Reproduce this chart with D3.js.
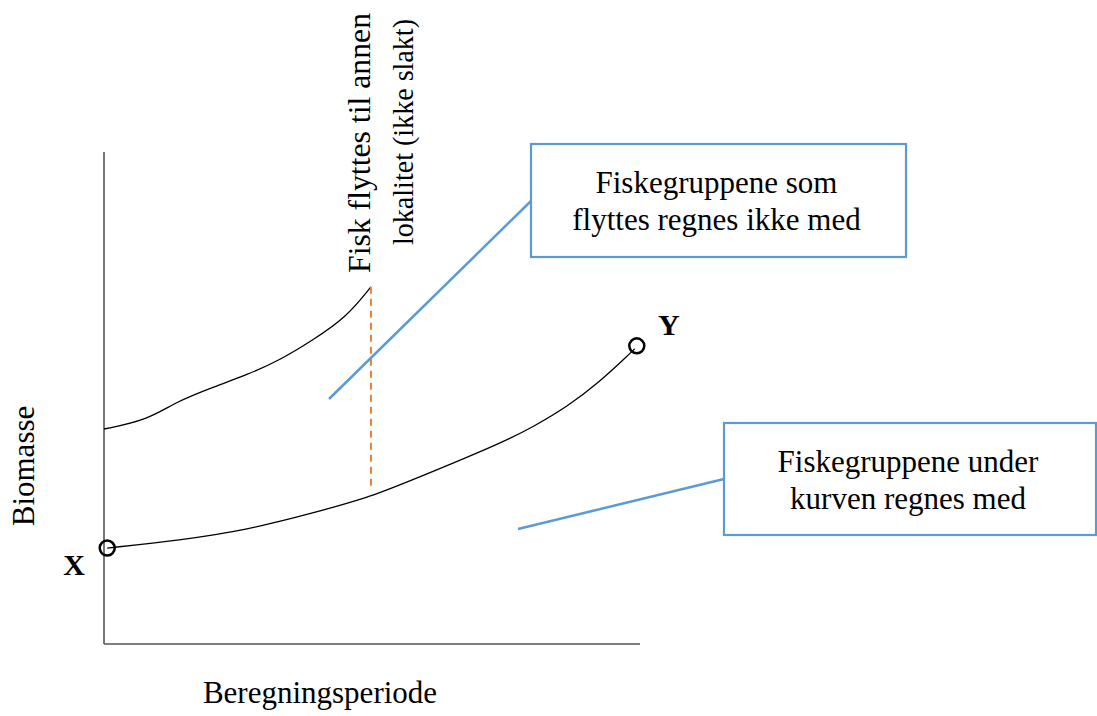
<!DOCTYPE html>
<html>
<head>
<meta charset="utf-8">
<script src="https://cdn.jsdelivr.net/npm/d3@7"></script>
<style>
  body { margin: 0; background: #fff; }
</style>
</head>
<body>
<div id="chart"></div>
<script>
// schematic values (period 0-10, biomass 0-10)
const upperPeriod = [0, 0.8, 1.34, 2.03, 2.67, 3.28, 3.9, 4.53, 4.98];
const upperBiomass = [4.37, 4.55, 4.92, 5.22, 5.47, 5.77, 6.18, 6.65, 7.26];
const lowerPeriod = [0.06, 1.42, 2.67, 3.9, 4.96, 5.52, 7.39, 8.0, 8.64, 9.25, 9.78, 9.9];
const lowerBiomass = [1.95, 2.11, 2.32, 2.66, 2.99, 3.23, 4.07, 4.41, 4.82, 5.33, 5.87, 6.0];
const movePeriod = 4.98;
const moveBiomass = [7.26, 3.17];
const pointLabels = ["X", "Y"];
const moveLabel = ["Fisk flyttes til annen", "lokalitet (ikke slakt)"];
const boxTop = ["Fiskegruppene som", "flyttes regnes ikke med"];
const boxBottom = ["Fiskegruppene under", "kurven regnes med"];

const FONT = "'Liberation Serif', 'Times New Roman', 'DejaVu Serif', serif";
const W = 1097, H = 716;
const svg = d3.select("#chart").append("svg")
    .attr("width", W)
    .attr("height", H)
    .attr("font-family", FONT);

const x = d3.scaleLinear().domain([0, 10]).range([104, 640]);
const y = d3.scaleLinear().domain([0, 10]).range([644, 152]);

// axes (plain lines, no ticks)
svg.append("line")
    .attr("x1", x(0)).attr("x2", x(0))
    .attr("y1", y(10)).attr("y2", y(0))
    .attr("stroke", "#555").attr("stroke-width", 1.6);
svg.append("line")
    .attr("x1", x(0)).attr("x2", x(10))
    .attr("y1", y(0)).attr("y2", y(0))
    .attr("stroke", "#555").attr("stroke-width", 1.6);

// axis titles
svg.append("text")
    .attr("x", 320).attr("y", 703)
    .attr("text-anchor", "middle")
    .attr("font-family", FONT)
    .attr("font-size", "31px")
    .text("Beregningsperiode");
svg.append("text")
    .attr("transform", "translate(34,466) rotate(-90)")
    .attr("text-anchor", "middle")
    .attr("font-family", FONT)
    .attr("font-size", "31px")
    .text("Biomasse");

const line = d3.line()
    .x(d => x(d[0]))
    .y(d => y(d[1]))
    .curve(d3.curveBasis);

svg.append("path")
    .datum(d3.zip(upperPeriod, upperBiomass))
    .attr("d", line)
    .attr("fill", "none")
    .attr("stroke", "#000")
    .attr("stroke-width", 1.3);
svg.append("path")
    .datum(d3.zip(lowerPeriod, lowerBiomass))
    .attr("d", line)
    .attr("fill", "none")
    .attr("stroke", "#000")
    .attr("stroke-width", 1.3);

// dashed move line
svg.append("line")
    .attr("x1", x(movePeriod)).attr("x2", x(movePeriod))
    .attr("y1", y(moveBiomass[0])).attr("y2", y(moveBiomass[1]))
    .attr("stroke", "#ED7D31")
    .attr("stroke-width", 2)
    .attr("stroke-dasharray", "7,5");

// start / end circles
const ends = [
    [lowerPeriod[0], lowerBiomass[0]],
    [lowerPeriod[lowerPeriod.length - 1] + 0.04, lowerBiomass[lowerBiomass.length - 1] + 0.06]
];
svg.selectAll(".endpt")
    .data(ends)
    .enter()
    .append("circle")
    .attr("class", "endpt")
    .attr("cx", d => x(d[0]))
    .attr("cy", d => y(d[1]))
    .attr("r", 7.5)
    .attr("fill", "none")
    .attr("stroke", "#000")
    .attr("stroke-width", 2.5);

svg.append("text")
    .attr("x", 74).attr("y", 575)
    .attr("text-anchor", "middle")
    .attr("font-family", FONT)
    .attr("font-size", "30px")
    .attr("font-weight", "bold")
    .text(pointLabels[0]);
svg.append("text")
    .attr("x", 658).attr("y", 335)
    .attr("font-family", FONT)
    .attr("font-size", "30px")
    .attr("font-weight", "bold")
    .text(pointLabels[1]);

// rotated note: [x, y, font size, length]
const noteSpots = [[370, 273, 31, 260], [413, 245, 30, 226]];
svg.selectAll(".movelabel")
    .data(moveLabel)
    .enter()
    .append("text")
    .attr("class", "movelabel")
    .attr("transform", (d, i) => `translate(${noteSpots[i][0]},${noteSpots[i][1]}) rotate(-90)`)
    .attr("font-family", FONT)
    .attr("font-size", (d, i) => noteSpots[i][2] + "px")
    .attr("textLength", (d, i) => noteSpots[i][3])
    .attr("lengthAdjust", "spacingAndGlyphs")
    .text(d => d);

// callout boxes
function callout(lines, box, from, to) {
    svg.append("line")
        .attr("x1", from[0]).attr("y1", from[1])
        .attr("x2", to[0]).attr("y2", to[1])
        .attr("stroke", "#5B9BD5")
        .attr("stroke-width", 2.5);
    svg.append("rect")
        .attr("x", box.x).attr("y", box.y)
        .attr("width", box.w).attr("height", box.h)
        .attr("fill", "#fff")
        .attr("stroke", "#5B9BD5")
        .attr("stroke-width", 2.2);
    svg.append("g")
        .selectAll("text")
        .data(lines)
        .enter()
        .append("text")
        .attr("x", box.x + box.w / 2 - 2)
        .attr("y", (d, i) => box.y + 49 + i * 37)
        .attr("text-anchor", "middle")
        .attr("font-family", FONT)
        .attr("font-size", "31px")
        .text(d => d);
}
callout(boxTop, { x: 531, y: 144, w: 375, h: 113 }, [329, 399], [531, 201]);
callout(boxBottom, { x: 724, y: 423, w: 372, h: 112 }, [518, 529], [724, 479]);
</script>
</body>
</html>
